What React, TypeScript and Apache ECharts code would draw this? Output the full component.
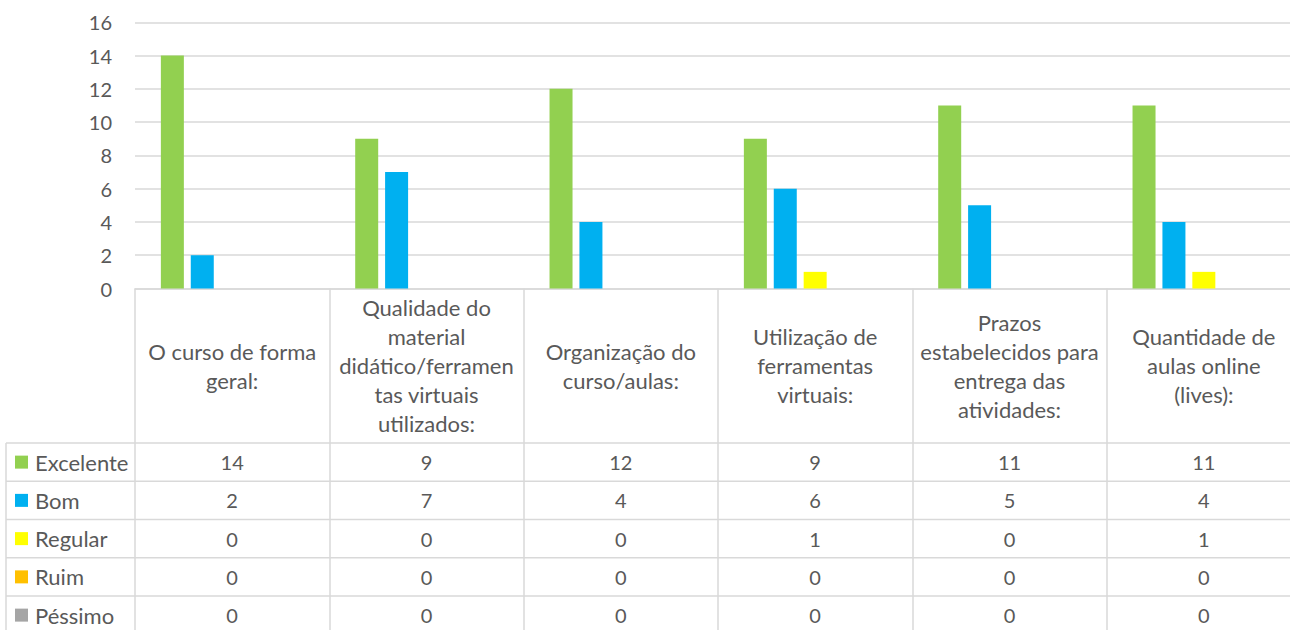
import React, { useEffect, useRef } from "react";
import * as echarts from "echarts";

const categories = [
  "O curso de forma\ngeral:",
  "Qualidade do\nmaterial\ndidático/ferramen\ntas virtuais\nutilizados:",
  "Organização do\ncurso/aulas:",
  "Utilização de\nferramentas\nvirtuais:",
  "Prazos\nestabelecidos para\nentrega das\natividades:",
  "Quantidade de\naulas online\n(lives):",
];
const seriesNames = ["Excelente", "Bom", "Regular", "Ruim", "Péssimo"];
const excelente = [14, 9, 12, 9, 11, 11];
const bom = [2, 7, 4, 6, 5, 4];
const regular = [0, 0, 0, 1, 0, 1];
const ruim = [0, 0, 0, 0, 0, 0];
const pessimo = [0, 0, 0, 0, 0, 0];
const seriesColors = ["#92D050", "#00B0F0", "#FFFF00", "#FFC000", "#A5A5A5"];
const yMin = 0;
const yMax = 16;
const yInterval = 2;

const rows = [excelente, bom, regular, ruim, pessimo];

export default function App() {
  const ref = useRef<HTMLDivElement>(null);
  useEffect(() => {
    if (!ref.current) return;
    const chart = echarts.init(ref.current, undefined, { renderer: "svg" });
    const font = "Lato";
    const textColor = "#595959";
    const lineColor = "#D9D9D9";
    const gridLeft = 135;
    const gridTop = 22.3;
    const gridWidth = 1166;
    const gridHeight = 266.2;
    const axisY = gridTop + gridHeight;
    const headerBottom = 443;
    const rowH = 38.25;
    const tableBottom = 640;

    const rowAxes = rows.map((vals, i) => ({
      type: "category",
      gridIndex: 0,
      position: "bottom",
      offset: headerBottom + rowH * i - axisY,
      data: categories,
      axisLine: { show: false },
      axisTick: { show: false },
      splitLine: { show: false },
      axisLabel: {
        interval: 0,
        margin: rowH / 2,
        verticalAlign: "middle",
        fontFamily: font,
        fontSize: 20,
        color: textColor,
        formatter: (_v: string, idx: number) => String(vals[idx]),
      },
    }));

    const legends = seriesNames.map((name, i) => ({
      orient: "vertical",
      left: 15,
      top: headerBottom + rowH * i + rowH / 2 - 11,
      padding: 0,
      itemWidth: 13,
      itemHeight: 13,
      icon: "rect",
      selectedMode: false,
      data: [name],
      textStyle: { fontFamily: font, fontSize: 22, lineHeight: 22, color: textColor, padding: [0, 0, 0, 2] },
    }));

    const lines: any[] = [];
    for (let i = 0; i < rows.length; i++) {
      const y = headerBottom + rowH * i;
      lines.push({
        type: "line",
        shape: { x1: 6, y1: y, x2: gridLeft + gridWidth, y2: y },
        style: { stroke: lineColor, lineWidth: 1.5 },
        silent: true,
      });
    }
    lines.push({
      type: "line",
      shape: { x1: 6, y1: headerBottom, x2: 6, y2: tableBottom },
      style: { stroke: lineColor, lineWidth: 1.5 },
      silent: true,
    });

    chart.setOption({
      animation: false,
      backgroundColor: "#FFFFFF",
      textStyle: { fontFamily: font },
      grid: { left: gridLeft, top: gridTop, width: gridWidth, height: gridHeight },
      legend: legends,
      xAxis: [
        {
          type: "category",
          gridIndex: 0,
          position: "bottom",
          data: categories,
          axisLine: { show: true, lineStyle: { color: lineColor, width: 1.5 } },
          axisTick: {
            show: true,
            interval: 0,
            length: tableBottom - axisY,
            lineStyle: { color: lineColor, width: 1.5 },
          },
          axisLabel: {
            interval: 0,
            margin: (headerBottom - axisY) / 2,
            verticalAlign: "middle",
            align: "center",
            fontFamily: font,
            fontSize: 22,
            lineHeight: 29,
            color: textColor,
          },
        },
        ...rowAxes,
      ],
      yAxis: {
        type: "value",
        min: yMin,
        max: yMax,
        interval: yInterval,
        axisLine: { show: false },
        axisTick: { show: false },
        splitLine: { lineStyle: { color: lineColor, width: 1.5 } },
        axisLabel: { margin: 23, fontFamily: font, fontSize: 20, color: textColor },
      },
      series: rows.map((vals, i) => ({
        name: seriesNames[i],
        type: "bar",
        data: vals,
        barWidth: 23,
        barGap: "30%",
        itemStyle: { color: seriesColors[i] },
      })),
      graphic: lines,
    });
    return () => chart.dispose();
  }, []);
  return (
    <div
      ref={ref}
      style={{ position: "fixed", left: 0, top: 0, width: 1320, height: 630, background: "#fff" }}
    />
  );
}
